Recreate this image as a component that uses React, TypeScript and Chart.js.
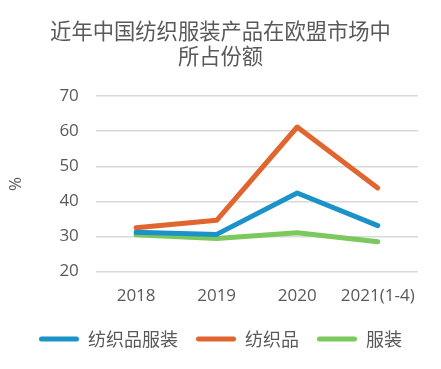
import React, { useEffect, useRef } from "react";
import { Chart, registerables } from "chart.js";

Chart.register(...registerables);

const categories = ["2018", "2019", "2020", "2021(1-4)"];
const textileApparel = [31.2, 30.6, 42.4, 33.1];
const textiles = [32.5, 34.6, 61.2, 43.8];
const apparel = [30.5, 29.4, 31.1, 28.5];
const titleLines = ["近年中国纺织服装产品在欧盟市场中", "所占份额"];

const FONT = "'Open Sans', 'Noto Sans CJK SC', sans-serif";
const GRAY = "#595959";

export default function App() {
  const ref = useRef<HTMLCanvasElement>(null);
  useEffect(() => {
    if (!ref.current) return;
    const chart = new Chart(ref.current, {
      type: "line",
      data: {
        labels: categories,
        datasets: [
          { label: "纺织品服装", data: textileApparel, borderColor: "#1B93C9", backgroundColor: "#1B93C9" },
          { label: "纺织品", data: textiles, borderColor: "#E0652F", backgroundColor: "#E0652F" },
          { label: "服装", data: apparel, borderColor: "#7BC85C", backgroundColor: "#7BC85C" },
        ].map((d) => ({ ...d, borderWidth: 5, pointRadius: 0, tension: 0, borderCapStyle: "round" as const, borderJoinStyle: "round" as const })),
      },
      options: {
        animation: false,
        responsive: false,
        maintainAspectRatio: false,
        layout: { padding: { left: 6, right: 6, top: 0, bottom: 11 } },
        plugins: {
          title: {
            display: true,
            text: titleLines,
            color: GRAY,
            font: { family: "'Noto Sans CJK SC', sans-serif", size: 21.3, weight: "normal" },
            padding: { top: 18, bottom: 27 },
            lineHeight: 1.3,
          },
          legend: {
            position: "bottom",
            labels: {
              color: GRAY,
              font: { family: "'Noto Sans CJK SC', sans-serif", size: 18 },
              boxWidth: 40,
              boxHeight: 5,
              useBorderRadius: true,
              borderRadius: 2.5,
              padding: 18,
              generateLabels: (c: any) =>
                Chart.defaults.plugins.legend.labels.generateLabels(c).map((l: any) => ({
                  ...l,
                  lineWidth: 0,
                  strokeStyle: "rgba(0,0,0,0)",
                })),
            },
          },
          tooltip: { enabled: false },
        },
        scales: {
          x: {
            offset: true,
            grid: { display: false },
            border: { display: false },
            ticks: { color: GRAY, font: { family: FONT, size: 17 }, padding: 6, maxRotation: 0, autoSkip: false },
          },
          y: {
            min: 20,
            max: 70,
            ticks: { stepSize: 10, color: GRAY, font: { family: FONT, size: 17 }, padding: 17 },
            grid: { color: "#D9D9D9", lineWidth: 1.5, drawTicks: false },
            border: { display: false },
            title: { display: true, text: "%", color: GRAY, font: { family: FONT, size: 17 }, padding: { top: 0, bottom: 16 } },
          },
          y2: {
            position: "right",
            min: 20,
            max: 70,
            grid: { display: false },
            border: { display: false },
            ticks: { display: false },
            afterFit: (s: any) => {
              s.width = 17;
            },
          },
        },
      },
    });
    return () => chart.destroy();
  }, []);
  return (
    <div style={{ position: "fixed", left: 0, top: 0, width: 441, height: 369, background: "#fff" }}>
      <canvas ref={ref} width={441} height={369} />
    </div>
  );
}
